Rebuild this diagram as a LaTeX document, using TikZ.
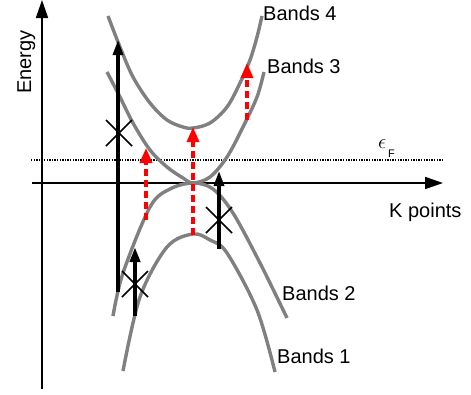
\documentclass[tikz,border=0pt]{standalone}
\usepackage{fontspec}
\setmainfont{Liberation Sans}
\usetikzlibrary{arrows.meta}
\definecolor{bandgray}{RGB}{128,128,128}
\begin{document}
\begin{tikzpicture}[x=1pt,y=-1pt,
  band/.style={draw=bandgray,line width=3.4pt},
  axis/.style={draw=black,line width=1.7pt,-{Triangle[length=18pt,width=12pt]}},
  excit/.style={draw=black,line width=3.2pt,-{Triangle[length=15pt,width=10pt]}},
  redexcit/.style={draw=red,line width=3.3pt,dash pattern=on 7pt off 4pt,-{Triangle[length=15pt,width=12pt]}},
  lab/.style={inner sep=0pt,anchor=base west,font=\fontsize{20}{20}\selectfont},
  cross/.style={draw=black,line width=1.7pt},
  fermi/.style={draw=black,line width=1.5pt,dash pattern=on 1.3pt off 1.3pt}]
\useasboundingbox (0,0) rectangle (471,394);
% axes
\coordinate (yb) at (42,389);
\coordinate (yt) at (42,0);
\coordinate (xl) at (32,183);
\coordinate (xr) at (443,183);
\draw[axis] (yb) -- (yt);
\draw[axis] (xl) -- (xr);
\coordinate (fl) at (31,160);
\coordinate (fr) at (442,160);
\draw[fermi] (fl) -- (fr);
% labels
\node[inner sep=0pt,rotate=90,anchor=base,font=\fontsize{20}{20}\selectfont] (energy) at (31,62) {Energy};
\node[lab] (kp) at (389,217) {K points};
\node[lab] (b4) at (263,20) {Bands 4};
\node[lab] (b3) at (267,73) {Bands 3};
\node[lab] (b2) at (282,300) {Bands 2};
\node[lab] (b1) at (277,363) {Bands 1};
\node[inner sep=0pt,anchor=base west,font=\fontsize{20}{20}\selectfont] (eps) at (378,148) {$\epsilon$};
\node[inner sep=0pt,anchor=base west,font=\fontsize{11}{11}\selectfont] (epsF) at (388,157) {F};
% bands
\draw[band] plot[smooth,tension=0.55] coordinates {(108,16) (120,47) (133,77) (150,103) (167,120) (183,127) (193,128) (210,123) (227,107) (240,83) (250,60) (257,37) (262,16)};
\draw[band] plot[smooth,tension=0.55] coordinates {(107,72) (120,97) (133,123) (150,150) (167,167) (183,178) (193,183) (210,177) (227,157) (243,127) (257,97) (264,72)};
\draw[band] plot[smooth,tension=0.55] coordinates {(113,316) (123,273) (150,207) (170,189) (193,183) (213,189) (233,213) (260,263) (287,318)};
\draw[band] plot[smooth,tension=0.55] coordinates {(123,371) (140,297) (167,247) (193,234) (210,240) (227,253) (257,310) (275,372)};
% black transitions
\coordinate (a1s) at (118,292); \coordinate (a1e) at (118,40);
\coordinate (a2s) at (135,316); \coordinate (a2e) at (135,247);
\coordinate (a3s) at (219,249); \coordinate (a3e) at (219,171);
\draw[excit] (a1s) -- (a1e);
\draw[excit,line width=4.2pt] (a2s) -- (a2e);
\draw[excit] (a3s) -- (a3e);
% crosses
\coordinate (x1) at (119,133);
\coordinate (x2) at (135,284);
\coordinate (x3) at (219,220);
\foreach \c in {x1,x2,x3}{
  \draw[cross] ([shift={(-13,-13)}]\c) -- ([shift={(13,13)}]\c);
  \draw[cross] ([shift={(-13,13)}]\c) -- ([shift={(13,-13)}]\c);
}
% red transitions
\coordinate (r1s) at (146,220); \coordinate (r1e) at (146,148);
\coordinate (r2s) at (193,235); \coordinate (r2e) at (193,127);
\coordinate (r3s) at (247,120); \coordinate (r3e) at (247,63);
\draw[redexcit] (r1s) -- (r1e);
\draw[redexcit] (r2s) -- (r2e);
\draw[redexcit] (r3s) -- (r3e);
\end{tikzpicture}
\end{document}
